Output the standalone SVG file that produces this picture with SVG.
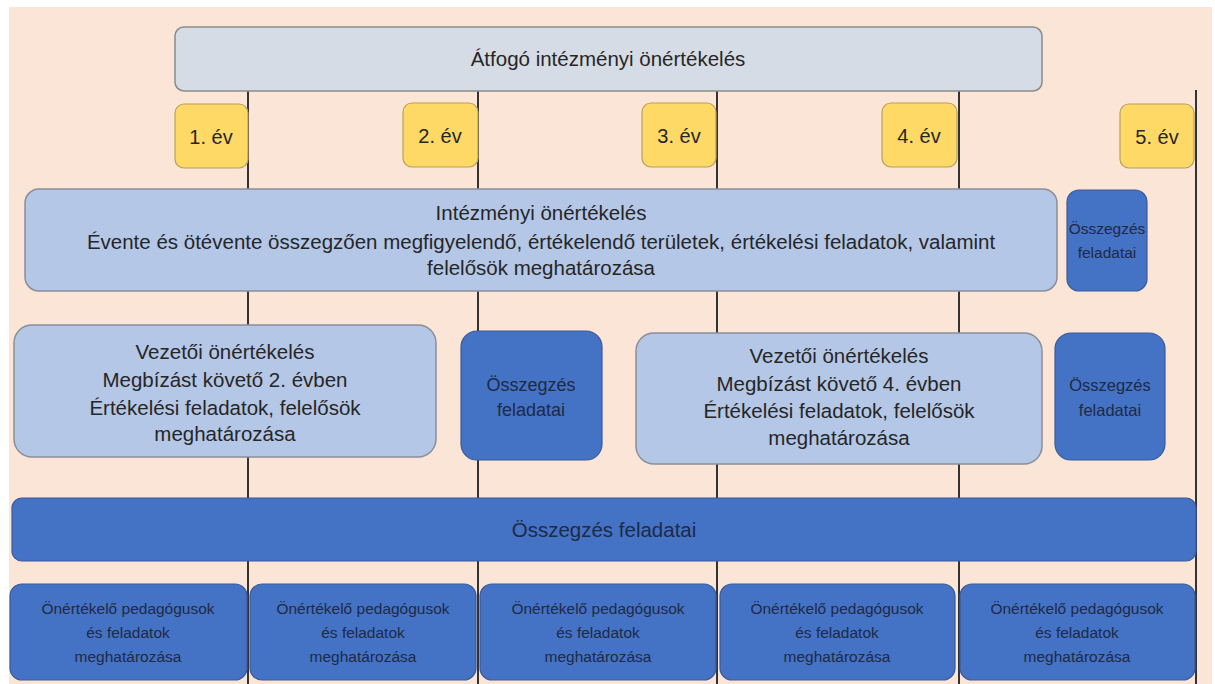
<svg xmlns="http://www.w3.org/2000/svg" width="1215" height="684" viewBox="0 0 1215 684">
<style>
text{font-family:"Liberation Sans",Arial,sans-serif;text-anchor:middle;fill:#262626}
.t{font-size:20.5px}
.y{font-size:20px}
.s{font-size:15.5px;fill:#1f2a44}
.m{font-size:18px;fill:#1f2a44}
.top{fill:#D6DCE5;stroke:#8a8a8a;stroke-width:1.5}
.yr{fill:#FFD966;stroke:#b8a060;stroke-width:1.2}
.lb{fill:#B4C7E7;stroke:#8a8f99;stroke-width:1.5}
.db{fill:#4472C4;stroke:#3a5a9a;stroke-width:1.2}
.ln{stroke:#333;stroke-width:2}
</style>
<rect x="0" y="0" width="1215" height="684" fill="#fff"/>
<rect x="9" y="7" width="1203" height="677" fill="#FBE5D6"/>
<g id="connectors">
<line class="ln" x1="248" y1="90" x2="248" y2="684"/>
<line class="ln" x1="478" y1="90" x2="478" y2="684"/>
<line class="ln" x1="717" y1="90" x2="717" y2="684"/>
<line class="ln" x1="959" y1="90" x2="959" y2="684"/>
<line class="ln" x1="1196" y1="90" x2="1196" y2="684"/>
</g>
<g id="atfogo"><rect class="top" x="175" y="27" width="867" height="64" rx="9"/><text class="t" x="608" y="66">Átfogó intézményi önértékelés</text></g>
<g id="ev1"><rect class="yr" x="175" y="104" width="73" height="64" rx="9"/><text class="y" x="211" y="144">1. év</text></g>
<g id="ev2"><rect class="yr" x="403" y="103" width="75" height="64" rx="9"/><text class="y" x="440" y="143">2. év</text></g>
<g id="ev3"><rect class="yr" x="642" y="103" width="74" height="64" rx="9"/><text class="y" x="679" y="143">3. év</text></g>
<g id="ev4"><rect class="yr" x="882" y="103" width="75" height="64" rx="9"/><text class="y" x="919" y="143">4. év</text></g>
<g id="ev5"><rect class="yr" x="1120" y="104" width="74" height="64" rx="9"/><text class="y" x="1157" y="144">5. év</text></g>
<g id="intezmenyi"><rect class="lb" x="25" y="189" width="1032" height="102" rx="14"/>
<text class="t" x="541" y="220">Intézményi önértékelés</text>
<text class="t" x="541" y="249">Évente és ötévente összegzően  megfigyelendő, értékelendő területek, értékelési feladatok, valamint</text>
<text class="t" x="541" y="275">felelősök meghatározása</text></g>
<g id="osszegzes1"><rect class="db" x="1067" y="190" width="80" height="101" rx="12"/><text class="s" x="1107" y="234">Összegzés</text><text class="s" x="1107" y="258">feladatai</text></g>
<g id="vezetoi1"><rect class="lb" x="14" y="325" width="422" height="132" rx="18"/>
<text class="t" x="225" y="359">Vezetői önértékelés</text>
<text class="t" x="225" y="387">Megbízást követő 2. évben</text>
<text class="t" x="225" y="415">Értékelési feladatok, felelősök</text>
<text class="t" x="225" y="441">meghatározása</text></g>
<g id="osszegzes2"><rect class="db" x="461" y="331" width="141" height="129" rx="16"/><text class="m" x="531" y="391">Összegzés</text><text class="m" x="531" y="416">feladatai</text></g>
<g id="vezetoi2"><rect class="lb" x="636" y="333" width="406" height="131" rx="18"/>
<text class="t" x="839" y="363">Vezetői önértékelés</text>
<text class="t" x="839" y="391">Megbízást követő 4. évben</text>
<text class="t" x="839" y="418">Értékelési feladatok, felelősök</text>
<text class="t" x="839" y="445">meghatározása</text></g>
<g id="osszegzes3"><rect class="db" x="1055" y="333" width="110" height="127" rx="16"/><text class="m" x="1110" y="391" style="font-size:16.5px">Összegzés</text><text class="m" x="1110" y="416" style="font-size:16.5px">feladatai</text></g>
<g id="osszegzes-fo"><rect class="db" x="12" y="498" width="1184" height="63" rx="10"/><text class="t" x="604" y="537" style="fill:#1f2a44">Összegzés feladatai</text></g>
<g id="ped1"><rect class="db" x="10" y="584" width="237" height="96" rx="12"/><text class="s" x="128" y="614">Önértékelő pedagógusok</text><text class="s" x="128" y="638">és feladatok</text><text class="s" x="128" y="662">meghatározása</text></g>
<g id="ped2"><rect class="db" x="250" y="584" width="226" height="96" rx="12"/><text class="s" x="363" y="614">Önértékelő pedagógusok</text><text class="s" x="363" y="638">és feladatok</text><text class="s" x="363" y="662">meghatározása</text></g>
<g id="ped3"><rect class="db" x="480" y="584" width="236" height="96" rx="12"/><text class="s" x="598" y="614">Önértékelő pedagógusok</text><text class="s" x="598" y="638">és feladatok</text><text class="s" x="598" y="662">meghatározása</text></g>
<g id="ped4"><rect class="db" x="720" y="584" width="235" height="96" rx="12"/><text class="s" x="837" y="614">Önértékelő pedagógusok</text><text class="s" x="837" y="638">és feladatok</text><text class="s" x="837" y="662">meghatározása</text></g>
<g id="ped5"><rect class="db" x="960" y="584" width="235" height="96" rx="12"/><text class="s" x="1077" y="614">Önértékelő pedagógusok</text><text class="s" x="1077" y="638">és feladatok</text><text class="s" x="1077" y="662">meghatározása</text></g>
</svg>
